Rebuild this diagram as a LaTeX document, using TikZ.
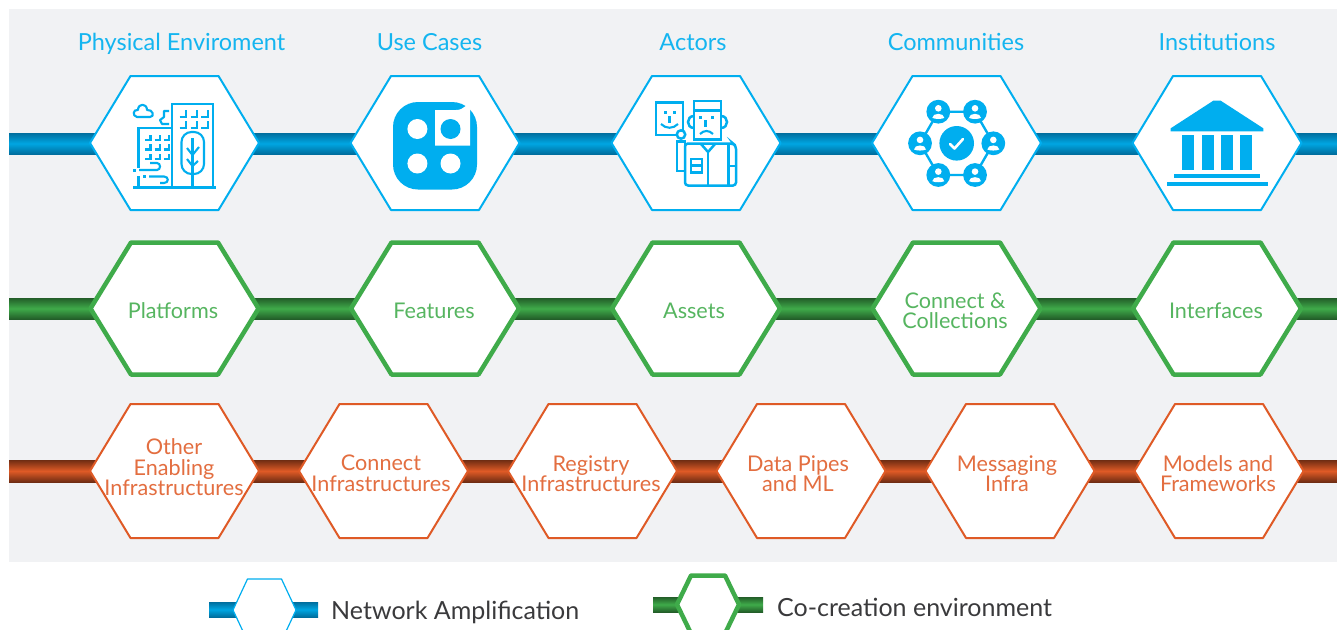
\documentclass[tikz,border=0pt]{standalone}
\usepackage{fontspec}
\setmainfont{Lato}
\usetikzlibrary{calc}
\definecolor{cblue}{HTML}{00AEEF}
\definecolor{cgreen}{HTML}{3FAB4A}
\definecolor{corange}{HTML}{DF5A26}
\definecolor{bgpanel}{HTML}{F1F2F4}
\definecolor{legendtext}{HTML}{3A3A3C}
\definecolor{bluedark}{HTML}{006E9E}
\definecolor{bluemid}{HTML}{00A6E2}
\tikzset{
  x=1pt,y=-1pt,
  hexblue/.style={draw=cblue,line width=2pt,fill=white,line join=round},
  hexgreen/.style={draw=cgreen,line width=4.5pt,fill=white,line join=round},
  hexorange/.style={draw=corange,line width=2pt,fill=white,line join=round},
  hexthin/.style={draw=cblue,line width=1.2pt,fill=white,line join=round},
  barblue/.style={top color=bluedark,bottom color=bluedark,middle color=bluemid},
  bargreen/.style={top color=cgreen!55!black,bottom color=cgreen!55!black,middle color=cgreen},
  barorange/.style={top color=corange!50!black,bottom color=corange!50!black,middle color=corange},
  heading/.style={text=cblue!92!white,font=\fontsize{23.5}{24}\selectfont,inner sep=0pt,anchor=base},
  labelgreen/.style={text=cgreen!88!white,align=center,font=\fontsize{21.6}{20.5}\selectfont,inner sep=0pt},
  labelorange/.style={text=corange!88!white,align=center,font=\fontsize{21.6}{20.5}\selectfont,inner sep=0pt},
  legendlabel/.style={text=legendtext,font=\fontsize{25}{26}\selectfont,inner sep=0pt,anchor=base west},
  iconline/.style={draw=cblue,line width=2.1pt,fill=none,line cap=butt},
  iconthick/.style={draw=cblue,line width=2.5pt},
}
% #1 name, #2 cx, #3 cy, #4 half width, #5 half flat width, #6 half height, #7 style
\newcommand{\hexa}[7]{%
  \path[#7] ({#2-#4},#3) -- ({#2-#5},{#3-#6}) -- ({#2+#5},{#3-#6}) -- ({#2+#4},#3) -- ({#2+#5},{#3+#6}) -- ({#2-#5},{#3+#6}) -- cycle;
  \coordinate (#1) at (#2,#3);
}
\newcommand{\personIcon}[2]{%
  \fill[cblue] (#1,#2) circle (11.9);
  \fill[white] (#1,{#2-3.4}) circle (3.3);
  \fill[white] ({#1-6},{#2+6.2}) .. controls ({#1-6},{#2+0.8}) and ({#1+6},{#2+0.8}) .. ({#1+6},{#2+6.2}) .. controls ({#1+3},{#2+7.6}) and ({#1-3},{#2+7.6}) .. cycle;
}
\begin{document}
\begin{tikzpicture}
\clip (0,0) rectangle (1337,629);
\fill[white] (0,0) rectangle (1337,629);
\fill[bgpanel] (9,9) rectangle (1337,562);
% bars
\shade[barblue] (9,133) rectangle (1337,154);
\shade[bargreen] (9,298) rectangle (1337,319);
\shade[barorange] (9,460) rectangle (1337,482);
\shade[barblue] (209,602) rectangle (318,617);
\shade[bargreen] (653,597) rectangle (763,612);
% row 1
\hexa{a1}{174.5}{143}{84.5}{44}{67}{hexblue}
\hexa{a2}{435}{143}{84.5}{44}{67}{hexblue}
\hexa{a3}{696}{143}{84.5}{44}{67}{hexblue}
\hexa{a4}{956.5}{143}{84.5}{44}{67}{hexblue}
\hexa{a5}{1217}{143}{84.5}{44}{67}{hexblue}
% row 2
\hexa{b1}{174.5}{308.5}{84}{43.5}{66}{hexgreen}
\hexa{b2}{435}{308.5}{84}{43.5}{66}{hexgreen}
\hexa{b3}{696}{308.5}{84}{43.5}{66}{hexgreen}
\hexa{b4}{956.5}{308.5}{84}{43.5}{66}{hexgreen}
\hexa{b5}{1217}{308.5}{84}{43.5}{66}{hexgreen}
% row 3
\hexa{c1}{174.5}{471}{84.5}{44}{67}{hexorange}
\hexa{c2}{383.5}{471}{84.5}{44}{67}{hexorange}
\hexa{c3}{592.5}{471}{84.5}{44}{67}{hexorange}
\hexa{c4}{801}{471}{84.5}{44}{67}{hexorange}
\hexa{c5}{1010}{471}{84.5}{44}{67}{hexorange}
\hexa{c6}{1219}{471}{84.5}{44}{67}{hexorange}
% legend hexagons
\hexa{l1}{264.5}{610}{31.5}{17}{31}{hexthin}
\hexa{l2}{708}{604.5}{31}{17}{29}{hexgreen}
% headings
\node[heading] (t1) at (181.5,50) {Physical Enviroment};
\node[heading] (t2) at (429.5,50) {Use Cases};
\node[heading] (t3) at (693,50) {Actors};
\node[heading] (t4) at (956,50) {Communities};
\node[heading] (t5) at (1217,50) {Institutions};
% row 2 labels
\node[labelgreen] (p1) at (173,311) {Platforms};
\node[labelgreen] (p2) at (434,311) {Features};
\node[labelgreen] (p3) at (694,311) {Assets};
\node[labelgreen] (p4) at (955,311) {Connect \&\\Collections};
\node[labelgreen] (p5) at (1216,311) {Interfaces};
% row 3 labels
\node[labelorange] (q1) at (174,467.5) {Other\\Enabling\\Infrastructures};
\node[labelorange] (q2) at (381,473.5) {Connect\\Infrastructures};
\node[labelorange] (q3) at (591,473.5) {Registry\\Infrastructures};
\node[labelorange] (q4) at (798,473.5) {Data Pipes\\and ML};
\node[labelorange] (q5) at (1007,473.5) {Messaging\\Infra};
\node[labelorange] (q6) at (1218,473.5) {Models and\\Frameworks};
% legend labels
\node[legendlabel] (n1) at (331,619) {Network Amplification};
\node[legendlabel] (n2) at (777,616) {Co-creation environment};
% icon 1: physical environment
\draw[iconline] (172,186.5) -- (172,104) -- (213,104) -- (213,186.5);
\draw[iconline] (172,128) -- (138.5,128) -- (138.5,168);
\draw[iconline] (138.5,176) -- (138.5,186.5);
\draw[cblue,line width=2.4pt] (133,187.5) -- (216,187.5);
\foreach \wx in {186,197,207.6} \foreach \wy in {117,128}
  \draw[iconline] ({\wx-6.5},\wy) -- (\wx,\wy) -- (\wx,{\wy-7});
\foreach \wx in {150.5,160,169.4} \foreach \wy in {140,149.5,159}
  \draw[iconline] ({\wx-5.5},\wy) -- (\wx,\wy) -- (\wx,{\wy-5.5});
\draw[iconline,rounded corners=10pt] (181.5,132) rectangle (204,174);
\draw[iconline] (192.5,138) -- (192.5,186.5);
\draw[iconline] (187,148) -- (192.5,155) -- (199,147);
\draw[iconline] (187,159) -- (192.5,166) -- (198,161);
\draw[iconline,line join=round] (137,117) .. controls (132,116) and (133,109) .. (138,110) .. controls (138,103) and (147,103) .. (147,110) .. controls (153,109) and (155,117) .. (150,117) -- cycle;
\draw[iconline,line join=round] (169,111) -- (164,111) -- (164,117) -- (160,120) -- (162,124) -- (169,124);
\draw[iconline] (139,170) -- (157,170) .. controls (161,170) and (161,163) .. (157,163) -- (150,163);
\draw[iconline] (149,176.5) -- (164,176.5) .. controls (169,176.5) and (169,183) .. (164,183) -- (160,183);
\fill[cblue] (133,168.5) rectangle (136,171.5);
\fill[cblue] (143,175) rectangle (146,178);
% icon 2: use cases
\fill[cblue,rounded corners=25pt] (393,102) rectangle (477,189.5);
\fill[white] (417.4,129) circle (10);
\fill[white] (417.4,163.5) circle (10);
\fill[white] (450.5,163.5) circle (10);
\fill[white] (435,110) -- (456,110) arc[start angle=90,end angle=0,radius=14] -- (470,145.5) -- (435,145.5) -- cycle;
\fill[cblue] (450.5,129) circle (10);
% icon 3: actors
\draw[iconthick] (656,102.5) rectangle (683,135);
\fill[cblue] (664,111) rectangle (666.5,114);
\fill[cblue] (673,111) rectangle (675.5,114);
\draw[iconline] (669.5,116) -- (669.5,123);
\draw[iconline] (661,124) .. controls (666,129) and (673,129) .. (678,124);
\draw[iconthick,fill=white] (681,134.5) circle (4.2);
\draw[iconthick] (694,101) rectangle (721,139.5);
\draw[iconthick] (694,110.5) -- (721,110.5);
\fill[cblue] (699,116) rectangle (701.5,119);
\fill[cblue] (711,116) rectangle (713.5,119);
\draw[iconline] (705.5,120) -- (705.5,127);
\draw[iconline] (700,134) .. controls (704,130) and (709,130) .. (713,134);
\draw[iconthick] (694,116) .. controls (686,116) and (686,128) .. (694,128);
\draw[iconthick] (721,116) .. controls (729,116) and (729,128) .. (721,128);
\draw[iconthick,rounded corners=3pt] (685,143.5) -- (733,143.5) -- (736,146) -- (736,185.5) -- (685,185.5) -- cycle;
\draw[iconthick] (677,141.5) rectangle (685,171);
\draw[iconthick] (701,144) -- (708,152) -- (715,144);
\draw[iconthick] (708,152) -- (708,185.5);
\draw[iconthick] (728.5,144) -- (728.5,185.5);
\draw[iconthick] (728.5,166) -- (736,166);
\draw[iconthick] (691,159) rectangle (702,172.5);
\draw[iconthick] (691,165.5) -- (702,165.5);
% icon 4: communities
\draw[cblue,line width=2.4pt] (938.3,111.7) -- (975,111.7) -- (993.3,143.3) -- (975,175) -- (938.3,175) -- (920,143.3) -- cycle;
\personIcon{938.3}{111.7}
\personIcon{975}{111.7}
\personIcon{993.3}{143.3}
\personIcon{975}{175}
\personIcon{938.3}{175}
\personIcon{920}{143.3}
\fill[cblue] (956.7,143.3) circle (17.3);
\draw[white,line width=2.6pt,line cap=round,line join=round] (950,144) -- (954.5,148.5) -- (963,139);
% icon 5: institutions
\fill[cblue] (1170.7,128.3) -- (1213.3,100.7) -- (1220.7,100.7) -- (1263.3,128.3) -- (1263.3,131.3) -- (1170.7,131.3) -- cycle;
\foreach \cx in {1182,1202,1221,1240} \fill[cblue] (\cx,135) rectangle ({\cx+12},170);
\fill[cblue] (1174,174) rectangle (1260,178);
\fill[cblue] (1167,182) rectangle (1268,186);
\end{tikzpicture}
\end{document}
